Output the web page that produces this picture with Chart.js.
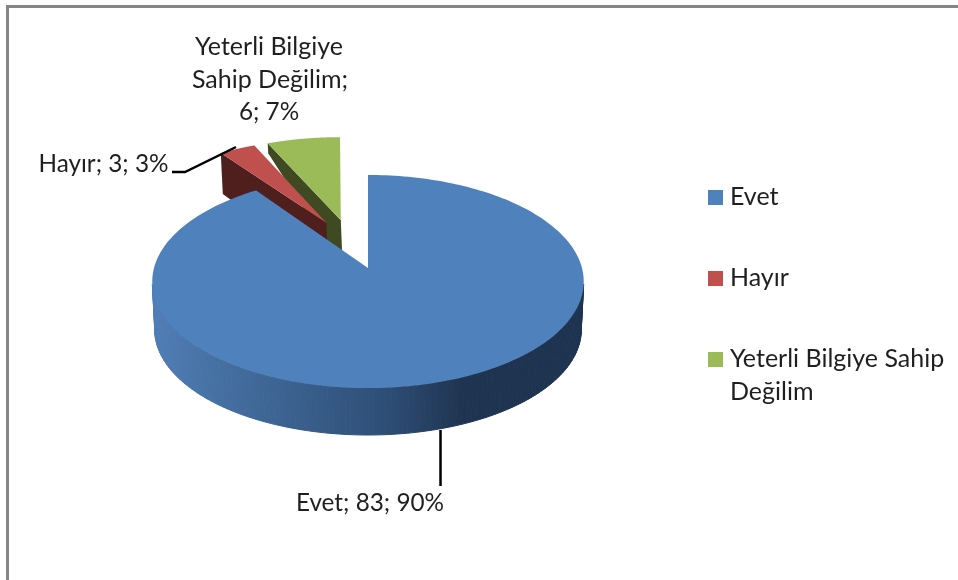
<!DOCTYPE html>
<html><head><meta charset="utf-8">
<style>
html,body{margin:0;padding:0;background:#fff;overflow:hidden}
#wrap{position:relative;width:958px;height:580px}
#frame{position:absolute;left:6px;top:5px;right:0;bottom:0;border-left:3px solid #868686;border-top:3px solid #868686;pointer-events:none}
canvas{display:block}
</style>
<script src="https://cdn.jsdelivr.net/npm/chart.js@4"></script>
</head><body>
<div id="wrap"><canvas id="c" width="958" height="580"></canvas><div id="frame"></div></div>
<script>
const categories = ['Evet', 'Hayır', 'Yeterli Bilgiye Sahip Değilim'];
const values = [83, 3, 6];
const percents = ['90%', '3%', '7%'];
const colors = ['#4f81bd', '#c0504d', '#9bbb59'];
const wallColors = [null, '#4f1f1d', '#3f4a22'];

const FONT_FAMILY = 'Lato, Carlito, sans-serif';
const TEXT = '#1f1f1f';

// view of the pie plane: centre of the first slice, scales, perspective, base plane
const VIEW = {x: 368, y: 268, a: 214, b: 104.8, t: 0.1267, shear: 0};
const VIEW_SMALL = {x: 368, y: 268, a: 214, b: 104.8, t: 0.1267, shear: 3.5};
const BASE = {x: 368, y: 316.5, a: 211.5, b: 103.5, t: 0.1267, shear: 0};
// how far the cut wall reaches at the rim, in px, for the two small slices
const rimDepth = [0, 41, 10];

function project(v, X, Y) {
  const s = 1 / (1 - v.t * Y);
  return [v.x + v.a * X * s + v.shear * Y, v.y + v.b * Y * s];
}

const pie3d = {
  id: 'pie3d',
  beforeDatasetDraw(chart, args) {
    const ctx = chart.ctx;
    const arcs = chart.getDatasetMeta(args.index).data;
    const mid = el => (el.startAngle + el.endAngle) / 2;
    const R = arcs[0].outerRadius;
    const off = el => el.options.offset / R;
    const ox = -Math.cos(mid(arcs[0])) * off(arcs[0]);
    const oy = -Math.sin(mid(arcs[0])) * off(arcs[0]);
    const world = (el, r, a) => [
      ox + Math.cos(mid(el)) * off(el) + r * Math.cos(a),
      oy + Math.sin(mid(el)) * off(el) + r * Math.sin(a)
    ];
    const rim = (el, v) => {
      const pts = [], n = 240;
      for (let i = 0; i <= n; i++) {
        const a = el.startAngle + (el.endAngle - el.startAngle) * i / n;
        const w = world(el, 1, a);
        pts.push(project(v, w[0], w[1]));
      }
      return pts;
    };
    const fillPoly = (pts, style) => {
      ctx.beginPath();
      pts.forEach((p, i) => i ? ctx.lineTo(p[0], p[1]) : ctx.moveTo(p[0], p[1]));
      ctx.closePath();
      ctx.fillStyle = style;
      ctx.fill();
    };
    const apex = (el, v) => { const w = world(el, 0, 0); return project(v, w[0], w[1]); };

    ctx.save();
    // small slices first, back to front, then the large one
    [2, 1].forEach(i => {
      const el = arcs[i];
      const top = rim(el, VIEW_SMALL);
      const corner = top[0];
      const a0 = apex(el, VIEW_SMALL), a1 = apex(el, BASE);
      fillPoly([a0, corner, [corner[0] + rimDepth[i] * 0.05, corner[1] + rimDepth[i]], a1], wallColors[i]);
      fillPoly([a0].concat(top), el.options.backgroundColor);
    });

    const blue = arcs[0];
    const topRim = rim(blue, VIEW), baseRim = rim(blue, BASE);
    const g = ctx.createLinearGradient(155, 0, 582, 0);
    g.addColorStop(0, '#4f7db5');
    g.addColorStop(0.25, '#3f6796');
    g.addColorStop(0.55, '#2d4d75');
    g.addColorStop(0.72, '#1f3450');
    g.addColorStop(1, '#1e3350');
    // side wall, swept from the top rim to the base rim along the front of the pie only
    ctx.strokeStyle = g;
    ctx.lineWidth = 1;
    for (let i = 1; i < topRim.length; i++) {
      if (topRim[i][1] < 282 || topRim[i - 1][1] < 282) continue;
      fillPoly([topRim[i - 1], topRim[i], baseRim[i], baseRim[i - 1]], g);
      ctx.stroke();
    }
    fillPoly([apex(blue, VIEW)].concat(topRim), blue.options.backgroundColor);
    ctx.restore();
    return false;
  },
  afterDraw(chart) {
    const ctx = chart.ctx;
    ctx.save();
    // leader lines
    ctx.strokeStyle = '#000';
    ctx.lineWidth = 2.5;
    ctx.beginPath();
    ctx.moveTo(440.5, 430); ctx.lineTo(440.5, 486);
    ctx.moveTo(172, 172); ctx.lineTo(185, 172); ctx.lineTo(236, 147);
    ctx.stroke();

    // data labels
    const lab = i => categories[i] + '; ' + values[i] + '; ' + percents[i];
    ctx.fillStyle = TEXT;
    ctx.textBaseline = 'middle';
    ctx.textAlign = 'center';
    ctx.font = '24.3px ' + FONT_FAMILY;
    ctx.fillText(lab(0), 370, 503);
    ctx.fillText(lab(1), 103.5, 164);
    ctx.fillText(values[2] + '; ' + percents[2], 269, 112);
    ctx.font = '25px ' + FONT_FAMILY;
    ctx.fillText('Yeterli Bilgiye', 269, 47);
    ctx.fillText('Sahip Değilim;', 270, 80);

    // legend
    ctx.textAlign = 'left';
    const rows = [[197, [categories[0]]], [278, [categories[1]]], [359, ['Yeterli Bilgiye Sahip', 'Değilim']]];
    rows.forEach((r, i) => {
      ctx.fillStyle = colors[i];
      ctx.fillRect(708, r[0] - 7, 15, 15);
      ctx.fillStyle = TEXT;
      r[1].forEach((t, k) => ctx.fillText(t, 730, r[0] + k * 33));
    });
    ctx.restore();
  }
};

new Chart(document.getElementById('c'), {
  type: 'pie',
  data: {
    labels: categories,
    datasets: [{data: values, backgroundColor: colors, borderWidth: 0, offset: 25, radius: 100}]
  },
  options: {
    responsive: false,
    animation: false,
    plugins: {legend: {display: false}, tooltip: {enabled: false}}
  },
  plugins: [pie3d]
});
</script>
</body></html>
